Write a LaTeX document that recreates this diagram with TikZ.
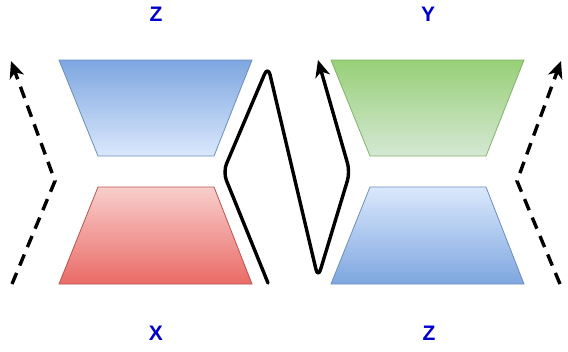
\documentclass[tikz,border=0pt]{standalone}
\usepackage{fontspec}
\setmainfont{Liberation Sans}
\usetikzlibrary{arrows.meta}
\definecolor{bluedark}{HTML}{7EA6E0}
\definecolor{bluelight}{HTML}{DAE8FC}
\definecolor{bluestroke}{HTML}{6C8EBF}
\definecolor{redlight}{HTML}{F8CECC}
\definecolor{reddark}{HTML}{EA6B66}
\definecolor{redstroke}{HTML}{B85450}
\definecolor{greendark}{HTML}{97D077}
\definecolor{greenlight}{HTML}{D5E8D4}
\definecolor{greenstroke}{HTML}{82B366}
\definecolor{labelblue}{HTML}{0000CC}
\tikzset{
  lbl/.style={font=\fontsize{21}{24}\selectfont\bfseries, text=labelblue, inner sep=0pt},
  flow/.style={line width=3.4pt, line join=round, line cap=round, rounded corners=9pt},
  dflow/.style={line width=3.4pt, dash pattern=on 12pt off 8pt},
  tip/.style={-{Stealth[length=17pt,width=15pt,inset=5pt]}},
  trap/.style={line width=0.8pt}
}
\begin{document}
\begin{tikzpicture}[x=1pt,y=-1pt]
\useasboundingbox (0,0) rectangle (568,351);
% trapezoids
\shade[trap, draw=bluestroke, top color=bluedark, bottom color=bluelight]
  (59,60) -- (252,60) -- (214,156) -- (98,156) -- cycle;
\shade[trap, draw=redstroke, top color=redlight, bottom color=reddark]
  (98,187) -- (214,187) -- (252,284) -- (59,284) -- cycle;
\shade[trap, draw=greenstroke, top color=greendark, bottom color=greenlight]
  (331,60) -- (524,60) -- (486,156) -- (370,156) -- cycle;
\shade[trap, draw=bluestroke, top color=bluelight, bottom color=bluedark]
  (370,187) -- (486,187) -- (524,284) -- (331,284) -- cycle;
% labels
\node[lbl] (zt) at (156,14) {Z};
\node[lbl] (yt) at (428,14) {Y};
\node[lbl] (xb) at (156,333) {X};
\node[lbl] (zb) at (429,333) {Z};
% coordinates
\coordinate (ls) at (12,284);
\coordinate (lb) at (55,181);
\coordinate (le) at (11,61);
\coordinate (rs) at (560,284);
\coordinate (rb) at (517,181);
\coordinate (re) at (561,61);
\coordinate (ms) at (268,283);
\coordinate (m1) at (223,172);
\coordinate (m2) at (268,66);
\coordinate (m3) at (318,278);
\coordinate (m4) at (350,172);
\coordinate (me) at (318,60);
% dashed arrows
\draw[dflow, tip] (ls) -- (lb) -- (le);
\draw[dflow, tip] (rs) -- (rb) -- (re);
% solid zigzag
\draw[flow, tip] (ms) -- (m1) -- (m2) -- (m3) -- (m4) -- (me);
\end{tikzpicture}
\end{document}
